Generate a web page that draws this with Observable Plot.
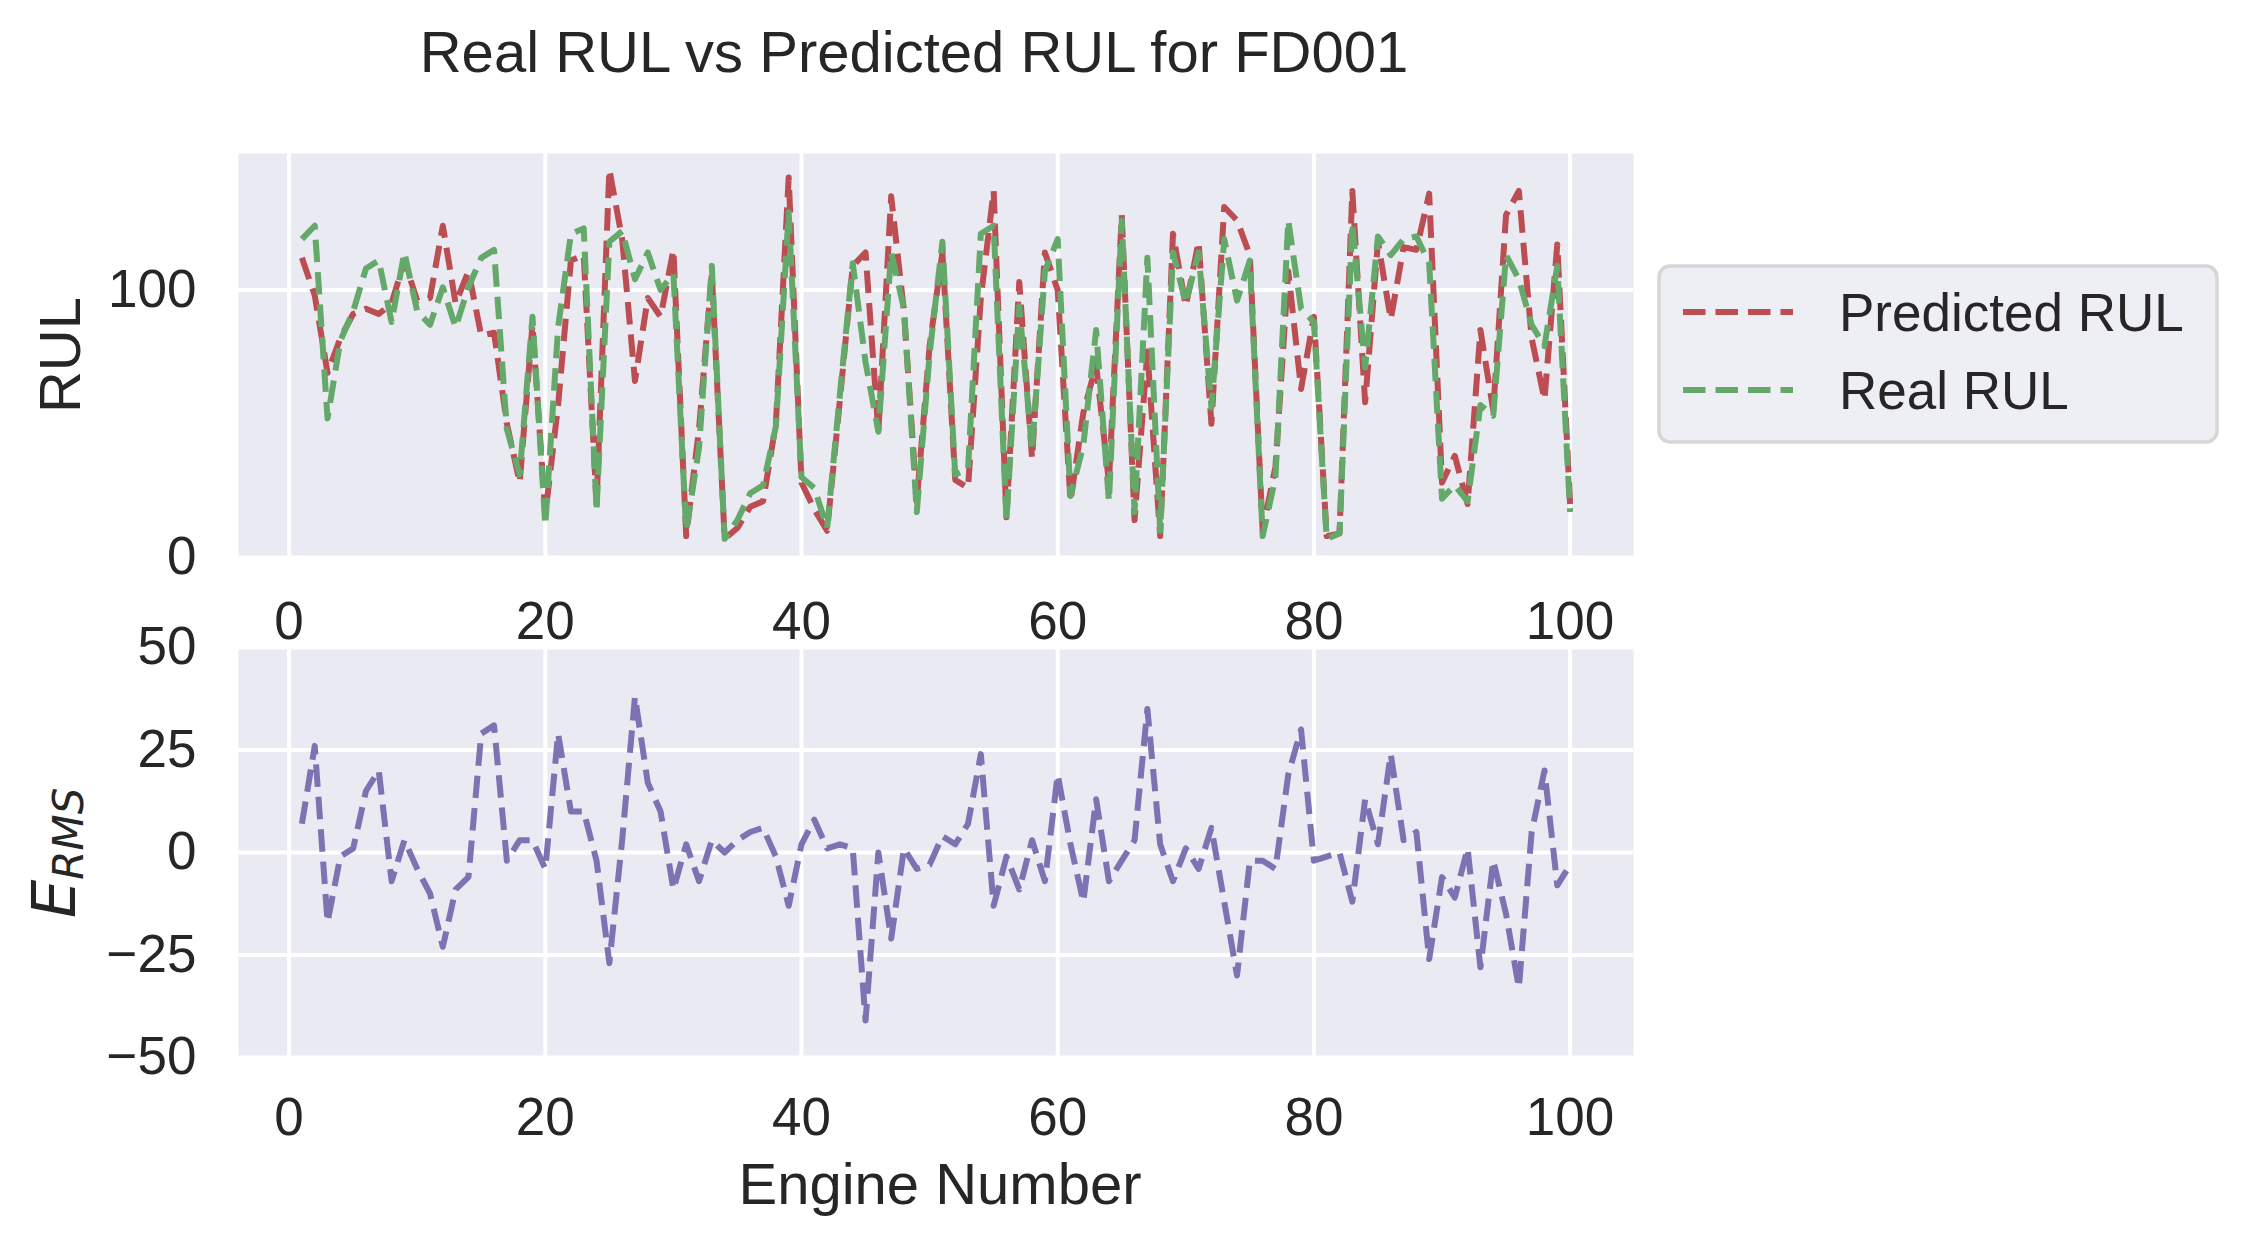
<!DOCTYPE html>
<html>
<head>
<meta charset="utf-8">
<script src="https://cdn.jsdelivr.net/npm/d3@7"></script>
<script src="https://cdn.jsdelivr.net/npm/@observablehq/plot@0.6"></script>
<style>
  body { margin: 0; background: #fff; }
  #wrap { position: relative; width: 2245px; height: 1248px; overflow: hidden; background: #fff;
          font-family: "Liberation Sans", Arial, sans-serif; color: #262626; }
  .abs { position: absolute; left: 0; }
</style>
</head>
<body>
<div id="wrap"></div>
<script>
// ---- data ----
const engines = d3.range(1, 101);
const predictedRUL = [
  112, 98, 69, 82, 91, 93, 91, 95, 111, 96,
  97, 124, 95, 107, 83, 84, 50, 28, 87, 16,
  57, 111, 113, 20, 145, 119, 66, 97, 90, 115,
  8, 48, 106, 7, 11, 19, 21, 50, 142, 28,
  18, 10, 59, 109, 114, 47, 135, 92, 21, 79,
  114, 29, 26, 97, 137, 15, 103, 37, 114, 100,
  21, 54, 72, 28, 128, 14, 77, 8, 121, 94,
  118, 50, 131, 126, 113, 10, 34, 107, 63, 90,
  8, 9, 137, 58, 118, 89, 116, 115, 136, 28,
  38, 20, 85, 55, 128, 137, 82, 59, 117, 20
];
const realRUL = [
  119, 124, 52, 81, 92, 108, 111, 88, 114, 92,
  87, 101, 86, 101, 112, 115, 48, 31, 90, 12,
  86, 121, 123, 18, 118, 122, 104, 114, 100, 106,
  10, 41, 109, 7, 14, 24, 27, 49, 129, 30,
  26, 11, 61, 110, 73, 47, 114, 93, 17, 76,
  118, 31, 33, 121, 124, 14, 94, 40, 107, 119,
  23, 42, 85, 21, 126, 17, 112, 10, 114, 95,
  114, 56, 119, 96, 111, 8, 30, 126, 93, 88,
  7, 9, 125, 71, 120, 113, 119, 120, 110, 22,
  27, 21, 57, 53, 113, 104, 87, 79, 109, 17
];
const errorRMS = [
  7, 26, -17, -1, 1, 15, 20, -7, 3, -4,
  -10, -23, -9, -6, 29, 31, -2, 3, 3, -4,
  29, 10, 10, -2, -27, 3, 38, 17, 10, -9,
  2, -7, 3, 0, 3, 5, 6, -1, -13, 2,
  8, 1, 2, 1, -41, 0, -21, 1, -4, -3,
  4, 2, 7, 24, -13, -1, -9, 3, -7, 19,
  2, -12, 13, -7, -2, 3, 35, 2, -7, 1,
  -4, 6, -12, -30, -2, -2, -4, 19, 30, -2,
  -1, 0, -12, 13, 2, 24, 3, 5, -26, -6,
  -11, 1, -28, -2, -15, -33, 5, 20, -8, -3
];
const xTicks = [0, 20, 40, 60, 80, 100];
const rulTicks = [0, 100];
const errTicks = [-50, -25, 0, 25, 50];
const seriesNames = ["Predicted RUL", "Real RUL"];
const titleText = "Real RUL vs Predicted RUL for FD001";

// ---- styles ----
const C = { pred: "#bb4d53", real: "#64a86a", err: "#7e72b2", text: "#262626", bg: "#eaeaf2" };
const FONT = '"Liberation Sans", Arial, sans-serif';
const lineStyle = { strokeWidth: 6, strokeDasharray: "22.5,10", strokeLinecap: "butt", strokeLinejoin: "round" };
const gridStyle = { stroke: "white", strokeOpacity: 1, strokeWidth: 4 };
const fmt = d => d < 0 ? "\u2212" + Math.abs(d) : String(d);
const plotStyle = { fontFamily: FONT, fontSize: "53px", color: C.text, background: "transparent", maxWidth: "none", overflow: "visible" };

const p1 = Plot.plot({
  width: 1700, height: 660,
  marginLeft: 238, marginRight: 67, marginTop: 153, marginBottom: 103,
  style: plotStyle,
  x: { domain: [-3.95, 104.95] },
  y: { domain: [0, 151] },
  marks: [
    Plot.frame({ fill: C.bg, stroke: "none" }),
    Plot.gridX({ ticks: xTicks, ...gridStyle }),
    Plot.gridY({ ticks: rulTicks, ...gridStyle }),
    Plot.line(engines, { x: d => d, y: (d, i) => predictedRUL[i], stroke: C.pred, ...lineStyle }),
    Plot.line(engines, { x: d => d, y: (d, i) => realRUL[i], stroke: C.real, ...lineStyle }),
    Plot.axisX({ ticks: xTicks, tickSize: 0, tickPadding: 44, fontSize: 53, label: null, tickFormat: fmt }),
    Plot.axisY({ ticks: rulTicks, tickSize: 0, tickPadding: 42, fontSize: 53, label: null, tickFormat: fmt })
  ]
});

const p2 = Plot.plot({
  width: 1700, height: 688,
  marginLeft: 238, marginRight: 67, marginTop: 87, marginBottom: 191,
  style: plotStyle,
  x: { domain: [-3.95, 104.95] },
  y: { domain: [-50, 50] },
  marks: [
    Plot.frame({ fill: C.bg, stroke: "none" }),
    Plot.gridX({ ticks: xTicks, ...gridStyle }),
    Plot.gridY({ ticks: errTicks, ...gridStyle }),
    Plot.line(engines, { x: d => d, y: (d, i) => errorRMS[i], stroke: C.err, ...lineStyle }),
    Plot.axisX({ ticks: xTicks, tickSize: 0, tickPadding: 40, fontSize: 53, label: null, tickFormat: fmt }),
    Plot.axisY({ ticks: errTicks, tickSize: 0, tickPadding: 42, fontSize: 53, label: null, tickFormat: fmt })
  ]
});

const wrap = document.getElementById("wrap");
p1.classList.add("abs"); p1.style.top = "0px";
p2.classList.add("abs"); p2.style.top = "560px";
wrap.appendChild(p1);
wrap.appendChild(p2);

// ---- overlay: title, axis labels, legend ----
const NS = "http://www.w3.org/2000/svg";
const ov = document.createElementNS(NS, "svg");
ov.setAttribute("width", 2245); ov.setAttribute("height", 1248);
ov.setAttribute("class", "abs"); ov.style.top = "0px"; ov.style.pointerEvents = "none";
ov.setAttribute("font-family", FONT);
ov.setAttribute("fill", C.text);
wrap.appendChild(ov);

function el(tag, attrs, text) {
  const e = document.createElementNS(NS, tag);
  for (const k in attrs) e.setAttribute(k, attrs[k]);
  if (text != null) e.textContent = text;
  return e;
}

ov.appendChild(el("text", { x: 914, y: 72, "font-size": 58, "text-anchor": "middle" }, titleText));
ov.appendChild(el("text", { x: 940, y: 1204, "font-size": 58, "text-anchor": "middle" }, "Engine Number"));
ov.appendChild(el("text", { transform: "translate(80,355) rotate(-90)", "font-size": 58, "text-anchor": "middle" }, "RUL"));

const eLab = el("text", { transform: "translate(75,853) rotate(-90)", "font-size": 61, "text-anchor": "middle",
  "font-family": '"DejaVu Sans", sans-serif', "font-style": "italic" });
eLab.appendChild(el("tspan", {}, "E"));
eLab.appendChild(el("tspan", { "font-size": 42, dy: 8 }, "RMS"));
ov.appendChild(eLab);

// legend
ov.appendChild(el("rect", { x: 1659, y: 266, width: 558, height: 176, rx: 11, ry: 11,
  fill: "#eeeef5", stroke: "#d6d6d6", "stroke-width": 3.5 }));
const legendColors = [C.pred, C.real];
const legendY = [312, 390];
seriesNames.forEach((name, i) => {
  ov.appendChild(el("line", { x1: 1683, x2: 1793, y1: legendY[i], y2: legendY[i], stroke: legendColors[i],
    "stroke-width": 6, "stroke-dasharray": "22.5,10" }));
  ov.appendChild(el("text", { x: 1839, y: legendY[i] + 19, "font-size": 53 }, name));
});
</script>
</body>
</html>
